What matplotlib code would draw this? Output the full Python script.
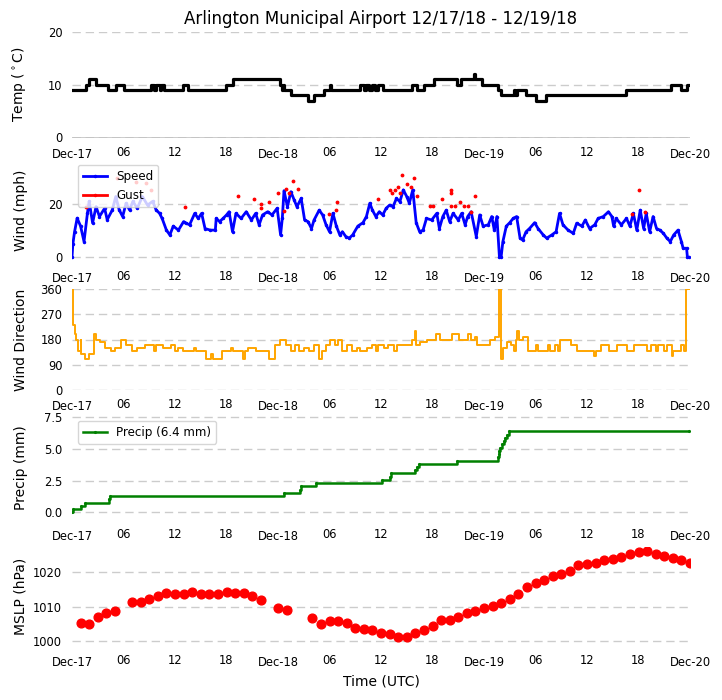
import numpy as np
import matplotlib
matplotlib.use('Agg')
import matplotlib.pyplot as plt
import matplotlib.dates as mdates
from matplotlib.lines import Line2D

START = np.datetime64('2018-12-17T00:00')
END = np.datetime64('2018-12-20T00:00')

# hours after 2018-12-17 00 UTC
temp_hours = [0.0, 1.6, 2.0, 2.8, 4.2, 5.1, 6.0, 9.2, 9.6, 9.8, 10.2, 10.4, 10.7, 12.9, 13.5,
              17.9, 18.7, 24.2, 24.5, 24.6, 24.7, 25.5, 27.5, 28.2, 29.4, 30.0, 30.2, 33.6,
              34.0, 34.3, 34.6, 35.0, 35.3, 35.6, 36.2, 39.6, 40.2, 41.0, 42.2, 44.9, 45.3,
              46.8, 46.9, 47.8, 49.6, 50.0, 51.5, 51.6, 51.9, 52.9, 54.0, 55.2, 64.5, 69.8,
              70.9, 71.7, 71.9]
temp_vals = [9, 10, 11, 10, 9, 10, 9, 10, 9, 10, 9, 10, 9, 10, 9,
             10, 11, 10, 9, 10, 9, 8, 7, 8, 9, 10, 9, 10,
             9, 10, 9, 10, 9, 10, 9, 10, 9, 10, 11, 10, 11,
             12, 11, 10, 9, 8, 9, 8, 9, 8, 7, 8, 9, 10,
             9, 10, 10]

speed_hours = [0.0, 0.1, 0.3, 0.6, 1.0, 1.4, 1.8, 2.0, 2.4, 2.8, 3.2, 3.8, 4.1, 4.7, 5.1, 5.5,
               5.9, 6.3, 6.7, 7.1, 7.6, 8.2, 8.8, 9.4, 9.8, 10.2, 10.5, 11.0, 11.4, 11.8, 12.4,
               13.0, 13.3, 13.7, 14.3, 14.7, 15.1, 15.5, 16.1, 16.7, 16.8, 17.2, 17.6, 18.0,
               18.3, 18.7, 19.1, 19.7, 20.3, 20.9, 21.4, 21.8, 22.2, 22.8, 23.3, 23.9, 24.3,
               24.5, 24.7, 25.1, 25.5, 25.9, 26.2, 26.7, 27.1, 27.5, 27.9, 28.2, 28.8, 29.2,
               29.6, 30.0, 30.4, 30.8, 31.2, 31.5, 31.9, 32.3, 32.7, 33.3, 33.9, 34.3, 34.7,
               35.0, 35.4, 35.8, 36.2, 36.6, 37.0, 37.4, 37.8, 38.2, 38.6, 39.0, 39.3, 39.7,
               40.1, 40.5, 40.9, 41.3, 41.9, 42.5, 42.8, 43.2, 43.6, 44.0, 44.4, 45.0, 45.4,
               45.8, 46.1, 46.5, 47.1, 47.5, 47.9, 48.5, 48.9, 49.2, 49.5, 49.8, 50.0, 50.2,
               50.6, 51.0, 51.4, 51.8, 52.2, 52.5, 52.9, 53.3, 53.9, 54.3, 54.9, 55.3, 55.9,
               56.4, 56.8, 57.2, 57.8, 58.4, 58.8, 59.4, 59.8, 60.3, 60.9, 61.3, 61.9, 62.5,
               62.9, 63.1, 63.4, 64.0, 64.6, 65.0, 65.4, 65.8, 66.2, 66.6, 66.9, 67.3, 67.7,
               68.1, 68.5, 68.9, 69.3, 69.7, 70.1, 70.6, 71.0, 71.2, 71.6, 71.7, 71.9]
speed_vals = [0, 5, 9.6, 14.7, 11.7, 5.9, 16.6, 21, 12.9, 19, 15.3, 18.4, 14.1, 17.8, 22.8, 17.8,
              15.3, 20.3, 17.8, 21, 18.4, 22.8, 19.6, 21, 17.8, 16.5, 14.6, 10.2, 8.4, 11.7, 10.2,
              13.4, 12.8, 12.2, 16.5, 14.6, 16.5, 10.8, 10.2, 10.2, 14.6, 13.4, 14.6, 15.9,
              17.1, 9.6, 16.5, 14.6, 17.1, 14.0, 16.5, 12.2, 15.9, 17.1, 15.9, 18.4, 8.4,
              14.6, 25.0, 19, 24.6, 21.4, 19, 22.1, 14.0, 13.4, 10.8, 14.0, 17.7, 15.9,
              12.2, 9.6, 16.5, 11.7, 8.4, 9.6, 7.8, 7.2, 8.4, 11.7, 13.0, 15.3, 20.3,
              17.7, 15.3, 17.1, 15.9, 18.4, 19.6, 19.0, 22.1, 20.9, 25.3, 22.8, 20.3, 25.3,
              13.0, 9.6, 10.2, 14.6, 14.0, 16.5, 10.8, 15.3, 17.7, 13.4, 16.5, 14.0, 16.5,
              12.2, 15.3, 17.1, 7.8, 15.9, 11.7, 12.2, 15.3, 10.2, 15.3, 0, 0.3, 5.9,
              11.7, 13.0, 14.6, 15.3, 7.2, 6.5, 9.6, 10.8, 13.0, 10.8, 8.4, 7.2, 8.4,
              9.6, 16.5, 12.2, 10.2, 9.0, 12.8, 11.7, 14.0, 10.8, 12.2, 14.6, 15.3, 17.1,
              15.3, 11.7, 14.6, 12.2, 14.6, 11.7, 16.5, 10.2, 17.7, 10.8, 16.5, 9.6, 15.3,
              10.8, 10.2, 9.0, 7.2, 5.9, 8.4, 10.2, 5.9, 3.4, 3.4, 0, 0]

gust_hours = [1.6, 5.3, 7.5, 8.6, 9.2, 13.2, 19.3, 21.2, 22.0, 22.0, 22.9, 24.0, 24.7, 24.9,
              25.3, 25.7, 26.3, 29.9, 30.8, 30.9, 35.7, 37.0, 37.3, 37.6, 38.0, 38.2, 38.5,
              39.0, 39.5, 39.9, 40.2, 41.7, 42.0, 43.1, 44.1, 44.2, 44.2, 44.6, 45.2, 45.7,
              46.1, 46.5, 46.9, 65.3, 66.0, 66.8]
gust_vals = [18.9, 29.7, 28.3, 27.8, 25.3, 19.0, 23.0, 21.8, 19.9, 18.6, 20.9, 24.3, 17.2, 25.5,
             24.3, 28.6, 25.5, 16.2, 17.9, 20.6, 21.8, 25.3, 24.0, 25.3, 26.3, 24.0, 30.8,
             27.4, 26.3, 29.6, 23.0, 19.1, 19.1, 21.8, 19.1, 25.3, 24.0, 19.1, 20.6, 19.1,
             19.1, 17.1, 23.0, 16.2, 25.3, 17.1]

dir_hours = [0.0, 0.1, 0.3, 0.5, 0.7, 1.0, 1.1, 1.5, 2.0, 2.6, 2.8, 3.3, 3.9, 4.5, 5.0, 5.7,
             6.3, 7.0, 7.6, 8.5, 9.5, 9.8, 10.6, 11.5, 12.0, 12.3, 12.9, 14.2, 14.5, 15.6,
             16.2, 16.4, 17.5, 18.5, 18.8, 19.9, 20.2, 20.5, 21.4, 23.0, 23.6, 24.2, 24.9,
             25.5, 26.0, 26.5, 27.0, 27.6, 28.2, 28.8, 29.1, 29.6, 30.1, 30.6, 31.0, 31.5,
             32.0, 32.6, 33.2, 33.6, 34.4, 35.0, 35.4, 35.6, 36.3, 36.8, 37.5, 37.9, 39.6,
             40.0, 40.1, 40.6, 41.4, 42.4, 42.9, 44.3, 45.1, 46.1, 46.5, 47.0, 47.2, 48.7,
             49.3, 49.7, 49.9, 50.0, 50.2, 50.7, 51.2, 51.5, 51.7, 51.9, 52.1, 52.5, 53.1,
             54.0, 54.3, 55.4, 55.7, 56.3, 56.6, 56.9, 58.1, 58.8, 60.8, 61.0, 61.6, 62.6,
             63.5, 64.7, 65.5, 67.0, 67.4, 68.0, 68.3, 69.0, 69.3, 69.9, 70.0, 70.9, 71.3,
             71.5, 71.9]
dir_vals = [360, 230, 200, 180, 140, 180, 130, 110, 130, 200, 180, 170, 150, 140, 150, 180,
            160, 140, 150, 160, 140, 160, 150, 160, 140, 150, 140, 150, 140, 110,
            130, 110, 140, 150, 140, 110, 140, 150, 140, 110, 160, 180, 160,
            140, 160, 140, 150, 140, 160, 110, 140, 160, 180, 160, 180, 140,
            160, 140, 150, 140, 150, 160, 140, 160, 150, 160, 140, 160, 180,
            210, 160, 170, 180, 200, 180, 200, 180, 200, 180, 190, 160, 180,
            190, 360, 360, 110, 150, 170, 160, 140, 180, 210, 180, 190, 140,
            160, 140, 160, 140, 160, 140, 180, 160, 140, 120, 140, 160, 140,
            160, 140, 160, 140, 160, 140, 160, 140, 160, 120, 140, 160, 140,
            360, 360]

precip_hours = [0.0, 0.1, 1.1, 1.5, 4.3, 4.4, 24.7, 26.6, 26.7, 28.4, 36.1, 37.1, 37.2, 40.0,
                40.2, 40.4, 44.8, 49.6, 49.7, 49.8, 49.9, 50.1, 50.3, 50.5, 50.7, 50.9, 71.9]
precip_vals = [0.0, 0.25, 0.51, 0.76, 1.02, 1.27, 1.52, 1.78, 2.03, 2.29, 2.54, 2.79, 3.05, 3.30,
               3.56, 3.81, 4.06, 4.32, 4.57, 4.83, 5.08, 5.33, 5.59, 5.84, 6.10, 6.36, 6.36]

mslp_hours = [1, 2, 3, 4, 5, 7, 8, 9, 10, 11, 12, 13, 14, 15, 16, 17, 18, 19, 20, 21, 22,
              24, 25, 28, 29, 30, 31, 32, 33, 34, 35, 36, 37, 38, 39, 40, 41, 42, 43, 44,
              45, 46, 47, 48, 49, 50, 51, 52, 53, 54, 55, 56, 57, 58, 59, 60, 61, 62, 63,
              64, 65, 66, 67, 68, 69, 70, 71, 72]
mslp_vals = [1005.4, 1005.1, 1007.0, 1008.1, 1008.8, 1011.3, 1011.3, 1012.3, 1013.1, 1013.9,
             1013.6, 1013.6, 1014.2, 1013.7, 1013.7, 1013.7, 1014.3, 1013.9, 1013.9, 1013.0,
             1011.9, 1009.6, 1009.1, 1006.7, 1004.9, 1005.9, 1005.9, 1005.2, 1003.8, 1003.5,
             1003.3, 1002.3, 1002.0, 1001.2, 1001.2, 1002.3, 1003.3, 1004.4, 1006.0, 1006.2,
             1007.1, 1008.1, 1008.8, 1009.6, 1010.2, 1011.2, 1012.3, 1013.7, 1015.7, 1016.8,
             1017.8, 1018.9, 1019.5, 1020.4, 1022.1, 1022.4, 1022.7, 1023.4, 1023.9, 1024.4,
             1025.3, 1025.8, 1026.1, 1025.2, 1024.7, 1024.1, 1023.5, 1022.8]


def to_time(hours):
    minutes = np.round(np.asarray(hours) * 60).astype(int)
    return START + minutes.astype('timedelta64[m]')


W, H = 722, 700
fig = plt.figure(figsize=(W / 100, H / 100), dpi=100)


def add_panel(top, bottom):
    return fig.add_axes([72 / W, 1 - bottom / H, 618 / W, (bottom - top) / H])


def style(ax, ylabel, ylim, yticks, yticklabels=None):
    for s in ax.spines.values():
        s.set_visible(False)
    ax.grid(axis='y', color='#cccccc', linestyle=(0, (6, 3.5)), linewidth=1)
    ax.set_axisbelow(True)
    ax.set_xlim(START, END)
    ax.xaxis.set_major_locator(mdates.DayLocator())
    ax.xaxis.set_major_formatter(mdates.DateFormatter('%b-%d'))
    ax.xaxis.set_minor_locator(mdates.HourLocator(byhour=[6, 12, 18]))
    ax.xaxis.set_minor_formatter(mdates.DateFormatter('%H'))
    ax.tick_params(axis='x', which='major', length=0, pad=7.5, labelsize=8.3)
    ax.tick_params(axis='x', which='minor', length=0, pad=6, labelsize=8.3)
    ax.tick_params(axis='y', length=0, pad=7, labelsize=8.3)
    ax.set_ylim(*ylim)
    ax.set_yticks(yticks)
    if yticklabels is not None:
        ax.set_yticklabels(yticklabels)
    ax.set_ylabel(ylabel, fontsize=10)
    ax.yaxis.set_label_coords(-0.072, 0.5)


# temperature
ax1 = add_panel(32, 137.5)
ax1.plot(to_time(temp_hours), temp_vals, color='k', lw=2.3, drawstyle='steps-post')
ax1.axhline(0, color='k', lw=1)
style(ax1, r'Temp ($^\circ$C)', (0, 20), [0, 10, 20])
ax1.set_title('Arlington Municipal Airport 12/17/18 - 12/19/18', fontsize=12)

# wind speed and gusts
ax2 = add_panel(159, 262)
speed_line, = ax2.plot(to_time(speed_hours), speed_vals, 'b.-', lw=2.0, ms=3)
ax2.plot(to_time(gust_hours), gust_vals, 'r.', ms=3.5, ls='none')
gust_handle = Line2D([], [], color='r', marker='.', ms=3, lw=2.0)
ax2.legend([speed_line, gust_handle], ['Speed', 'Gust'], loc='upper left', fontsize=8.6)
style(ax2, 'Wind (mph)', (-1.76, 36.9), [0, 20])

# wind direction
ax3 = add_panel(289, 390)
ax3.plot(to_time(dir_hours), dir_vals, color='orange', lw=1.4, drawstyle='steps-post')
style(ax3, 'Wind Direction', (0, 360), [0, 90, 180, 270, 360])

# precipitation
ax4 = add_panel(415, 519.5)
ax4.plot(to_time(precip_hours), precip_vals, 'g.-', lw=1.8, ms=2.5, drawstyle='steps-post',
         label='Precip (%.1f mm)' % precip_vals[-1])
ax4.legend(loc='upper left', fontsize=8.6)
style(ax4, 'Precip (mm)', (-0.56, 7.64), [0, 2.5, 5, 7.5], ['0.0', '2.5', '5.0', '7.5'])

# sea level pressure
ax5 = add_panel(547, 646)
ax5.plot(to_time(mslp_hours), mslp_vals, 'o', color='r', ms=6.3)
style(ax5, 'MSLP (hPa)', (998.6, 1027.3), [1000, 1010, 1020])
ax5.set_xlabel('Time (UTC)', fontsize=10)

fig.savefig('out.png', dpi=100)
